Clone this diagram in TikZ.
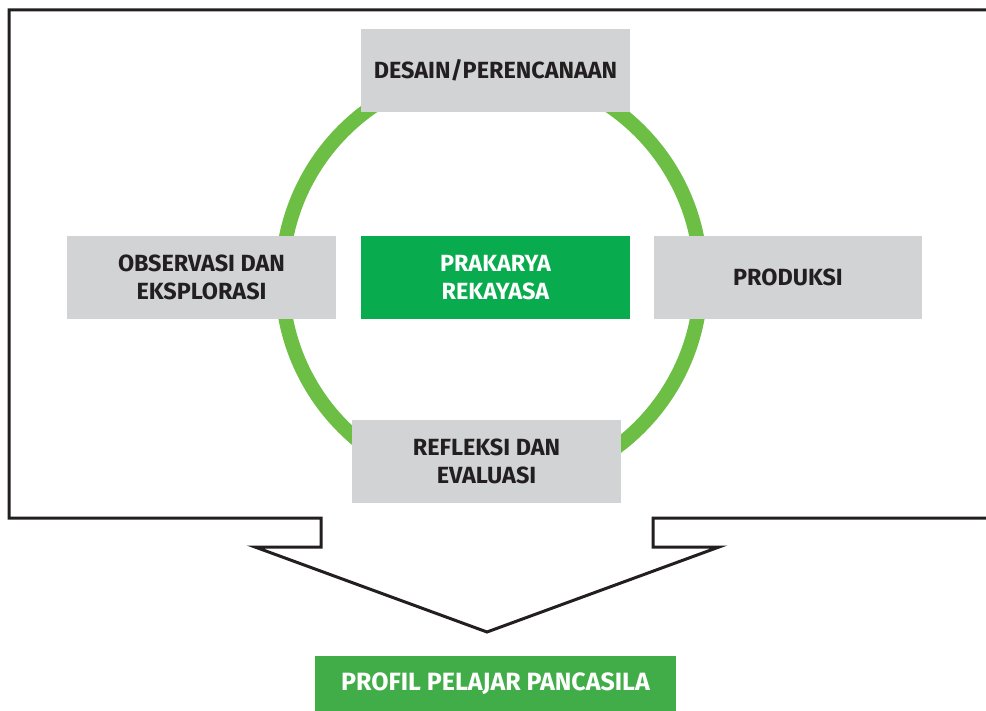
\documentclass[tikz,border=0pt]{standalone}
\usepackage{fontspec}
\setmainfont{Fira Sans}
\definecolor{ringgreen}{HTML}{6CBE45}
\definecolor{boxgreen}{HTML}{08AC4E}
\definecolor{profgreen}{HTML}{41AD49}
\definecolor{boxgray}{HTML}{D1D3D4}
\definecolor{ink}{HTML}{231F20}
\tikzset{
  graybox/.style={fill=boxgray, text=ink, minimum width=269pt, minimum height=83pt, inner sep=0pt, align=center, font=\fontsize{23.4}{28}\selectfont\bfseries},
  greenbox/.style={fill=boxgreen, text=white, minimum width=269pt, minimum height=83pt, inner sep=0pt, align=center, font=\fontsize{23.4}{28}\selectfont\bfseries},
  profbox/.style={fill=profgreen, text=white, minimum width=361pt, minimum height=55pt, inner sep=0pt, align=center, font=\fontsize{25}{28}\selectfont\bfseries},
  frameline/.style={draw=ink, line width=3pt, line join=miter},
  ring/.style={draw=ringgreen, line width=14.5pt}
}
\begin{document}
\begin{tikzpicture}[x=1pt,y=-1pt]
\useasboundingbox (0,0) rectangle (986,711);
% frame with arrow
\coordinate (f1) at (990,10);
\coordinate (f2) at (9,10);
\coordinate (f3) at (9,518);
\coordinate (f4) at (321,518);
\coordinate (f5) at (321,547);
\coordinate (f6) at (255,547);
\coordinate (tip) at (487,632);
\coordinate (f8) at (719,547);
\coordinate (f9) at (653,547);
\coordinate (f10) at (653,518);
\coordinate (f11) at (990,518);
\draw[frameline] (f1) -- (f2) -- (f3) -- (f4) -- (f5) -- (f6) -- (tip) -- (f8) -- (f9) -- (f10) -- (f11);
% ring
\coordinate (c) at (491.5,279);
\draw[ring] (c) circle[radius=209.5];
% boxes
\node[graybox] (desain) at (495.5,70.5) {DESAIN/PERENCANAAN};
\node[graybox] (obs) at (201.5,277.5) {OBSERVASI DAN\\EKSPLORASI};
\node[greenbox] (prak) at (495.5,277.5) {PRAKARYA\\REKAYASA};
\node[graybox, minimum width=268pt] (prod) at (788,277.5) {PRODUKSI};
\node[graybox] (ref) at (486.5,461.5) {REFLEKSI DAN\\EVALUASI};
\node[profbox] (profil) at (495.5,683.5) {PROFIL PELAJAR PANCASILA};
\end{tikzpicture}
\end{document}
